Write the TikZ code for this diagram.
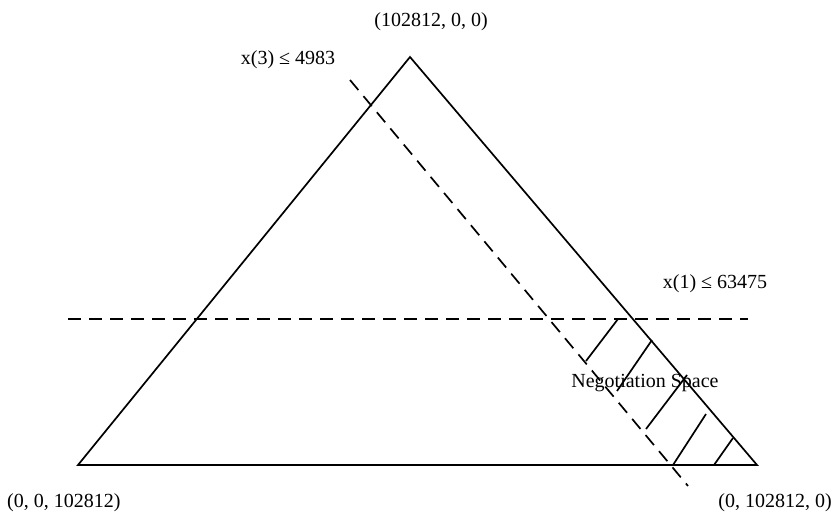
\documentclass[tikz,border=0pt]{standalone}
\usepackage{fontspec}
\setmainfont{Liberation Serif}
\begin{document}
\begin{tikzpicture}[x=1pt,y=-1pt,
  edge/.style={line width=1.7pt},
  dline/.style={line width=1.7pt, dash pattern=on 13pt off 8pt},
  hatch/.style={line width=1.7pt},
  lbl/.style={font=\fontsize{20}{23}\selectfont, inner sep=0pt}]
\useasboundingbox (0,0) rectangle (834,521);
% triangle vertices
\coordinate (A) at (410,57);
\coordinate (B) at (78,465);
\coordinate (C) at (757,465);
\draw[edge] (A) -- (B) -- (C) -- cycle;
% constraints
\coordinate (h1) at (68,319);
\coordinate (h2) at (748,319);
\draw[dline] (h1) -- (h2);
\coordinate (d1) at (350,80);
\coordinate (d2) at (688,486);
\draw[dline] (d1) -- (d2);
% hatch
\coordinate (s1) at (618,319);   \coordinate (e1) at (586,361);
\coordinate (s2) at (652,340);   \coordinate (e2) at (617,391);
\coordinate (s3) at (687,375);   \coordinate (e3) at (646,429);
\coordinate (s4) at (706,414);   \coordinate (e4) at (673,465);
\coordinate (s5) at (733,438);   \coordinate (e5) at (714,465);
\foreach \i in {1,...,5} \draw[hatch] (s\i) -- (e\i);
% labels
\node[lbl] (ltop) at (431,22) {(102812, 0, 0)};
\node[lbl] (lx3) at (288,60) {x(3) ≤ 4983};
\node[lbl] (lx1) at (715,284) {x(1) ≤ 63475};
\node[lbl] (lneg) at (645,383) {Negotiation Space};
\node[lbl, anchor=west] (lbl1) at (7,503) {(0, 0, 102812)};
\node[lbl, anchor=east] (lbr) at (832,503) {(0, 102812, 0)};
\end{tikzpicture}
\end{document}
